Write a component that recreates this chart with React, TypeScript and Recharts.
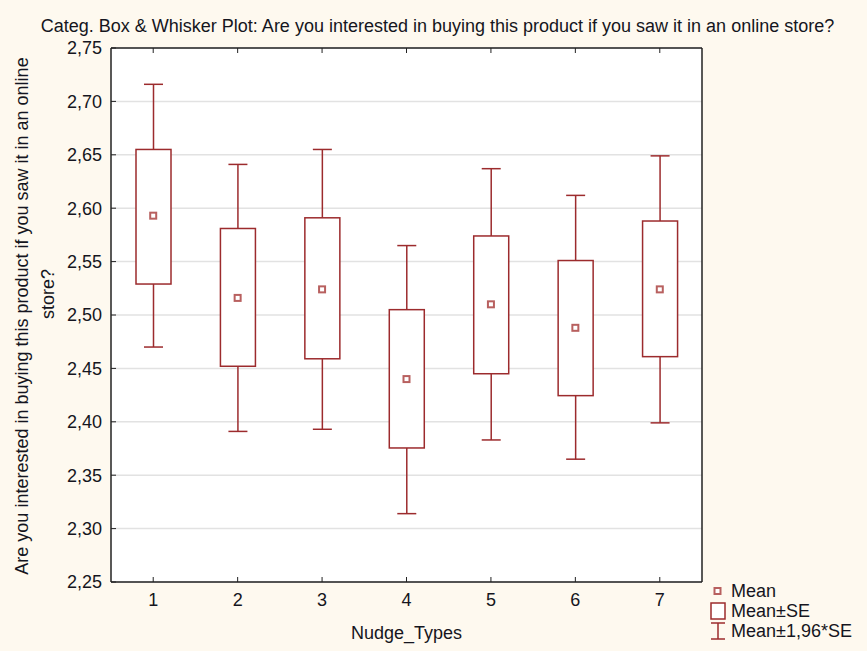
import React from 'react';
import {
  ComposedChart,
  Bar,
  Scatter,
  XAxis,
  YAxis,
  CartesianGrid,
} from 'recharts';

const categories = ['1', '2', '3', '4', '5', '6', '7'];
const means = [2.593, 2.516, 2.524, 2.44, 2.51, 2.488, 2.524];
const seLow = [2.529, 2.452, 2.459, 2.3755, 2.445, 2.4245, 2.461];
const seHigh = [2.655, 2.581, 2.591, 2.505, 2.574, 2.551, 2.588];
const ciLow = [2.47, 2.391, 2.393, 2.314, 2.383, 2.365, 2.399];
const ciHigh = [2.716, 2.641, 2.655, 2.565, 2.637, 2.612, 2.649];
const yTicks = [2.25, 2.3, 2.35, 2.4, 2.45, 2.5, 2.55, 2.6, 2.65, 2.7, 2.75];

const title = 'Categ. Box & Whisker Plot: Are you interested in buying this product if you saw it in an online store?';
const yTitle = ['Are you interested in buying this product if you saw it in an online', 'store?'];

const FONT = '"Liberation Sans", Arial, sans-serif';
const BOX = '#9c2b2d';
const MEAN = '#b8605f';
const BG = '#fef9ef';
const INK = '#151520';
const FRAME = { stroke: '#222', strokeWidth: 1.5 };

const data = categories.map((c, i) => ({
  cat: c,
  mean: means[i],
  seLow: seLow[i],
  seHigh: seHigh[i],
  ciLow: ciLow[i],
  ciHigh: ciHigh[i],
}));

// whiskers + SE box; inner values are placed using the range bar's own pixel span
const BoxWhisker = (props: any) => {
  const { x, y, width, height, payload } = props;
  if (!payload) return null;
  const { ciLow: lo, ciHigh: hi } = payload;
  const py = (v: number) => y + ((hi - v) / (hi - lo)) * height;
  const cx = x + width / 2;
  const capHalf = 9.5;
  const top = py(payload.seHigh);
  const bottom = py(payload.seLow);
  return (
    <g stroke={BOX} strokeWidth={1.5} fill="none">
      <line x1={cx} x2={cx} y1={y} y2={y + height} />
      <line x1={cx - capHalf} x2={cx + capHalf} y1={y} y2={y} />
      <line x1={cx - capHalf} x2={cx + capHalf} y1={y + height} y2={y + height} />
      <rect x={x} y={top} width={width} height={bottom - top} fill="#fff" />
    </g>
  );
};

const MeanMarker = (props: any) => {
  const { cx, cy } = props;
  if (cx == null || cy == null) return null;
  return <rect x={cx - 3} y={cy - 3} width={6} height={6} fill="#fff" stroke={MEAN} strokeWidth={2} />;
};

const YTitle = () => (
  <g fontFamily={FONT} fontSize={18} fill={INK}>
    <text transform="translate(28, 316) rotate(-90)" textAnchor="middle">{yTitle[0]}</text>
    <text transform="translate(54, 294) rotate(-90)" textAnchor="middle">{yTitle[1]}</text>
  </g>
);

const fmt = (v: number) => v.toFixed(2).replace('.', ',');

export default function App() {
  return (
    <div style={{ position: 'relative', width: 867, height: 651, background: BG, fontFamily: FONT }}>
      <style>{`body{margin:0}`}</style>
      <div
        style={{
          position: 'absolute',
          left: 0,
          width: 867,
          top: 17,
          textAlign: 'center',
          fontSize: 18,
          lineHeight: '18px',
          color: INK,
          paddingLeft: 4,
        }}
      >
        {title}
      </div>
      <ComposedChart
        width={867}
        height={651}
        data={data}
        margin={{ top: 47, right: 164, bottom: 0, left: 0 }}
      >
        <CartesianGrid vertical={false} stroke="#e2e2e2" strokeWidth={1.5} fill="#ffffff" />
        <XAxis
          dataKey="cat"
          height={69}
          stroke="#222"
          axisLine={FRAME}
          tickSize={-5}
          tickMargin={16}
          tick={{ fill: INK, fontSize: 18, fontFamily: FONT }}
          label={{ value: 'Nudge_Types', position: 'insideBottom', offset: 12, fill: INK, fontSize: 18, fontFamily: FONT }}
        />
        <XAxis
          dataKey="cat"
          xAxisId="top"
          orientation="top"
          height={1}
          stroke="#222"
          axisLine={FRAME}
          tickSize={-5}
          tickFormatter={() => ''}
        />
        <YAxis
          domain={[2.25, 2.75]}
          ticks={yTicks}
          width={111}
          stroke="#222"
          axisLine={FRAME}
          tickSize={-5}
          tickMargin={14}
          tickFormatter={fmt}
          tick={{ fill: INK, fontSize: 18, fontFamily: FONT }}
          label={{ content: <YTitle /> }}
        />
        <YAxis
          yAxisId="right"
          orientation="right"
          domain={[2.25, 2.75]}
          ticks={yTicks}
          width={1}
          stroke="#222"
          axisLine={FRAME}
          tickSize={-5}
          tickFormatter={() => ''}
        />
        <Bar
          dataKey={(d: any) => [d.ciLow, d.ciHigh]}
          barSize={35}
          shape={<BoxWhisker />}
          isAnimationActive={false}
        />
        <Scatter dataKey="mean" shape={<MeanMarker />} isAnimationActive={false} />
      </ComposedChart>
      <div style={{ position: 'absolute', left: 708, top: 580, fontSize: 18, color: INK, lineHeight: '20px' }}>
        <div style={{ display: 'flex', alignItems: 'center', height: 21 }}>
          <svg width={20} height={20}>
            <rect x={6.5} y={7} width={6} height={6} fill="#fff" stroke={MEAN} strokeWidth={2} />
          </svg>
          <span style={{ marginLeft: 3 }}>Mean</span>
        </div>
        <div style={{ display: 'flex', alignItems: 'center', height: 20 }}>
          <svg width={20} height={20}>
            <rect x={3} y={2} width={14} height={16} fill="#fff" stroke={BOX} strokeWidth={1.5} />
          </svg>
          <span style={{ marginLeft: 3 }}>Mean±SE</span>
        </div>
        <div style={{ display: 'flex', alignItems: 'center', height: 20 }}>
          <svg width={20} height={20}>
            <g stroke={BOX} strokeWidth={1.5}>
              <line x1={3} x2={17} y1={2} y2={2} />
              <line x1={10} x2={10} y1={2} y2={18} />
              <line x1={3} x2={17} y1={18} y2={18} />
            </g>
          </svg>
          <span style={{ marginLeft: 3 }}>Mean±1,96*SE</span>
        </div>
      </div>
    </div>
  );
}
